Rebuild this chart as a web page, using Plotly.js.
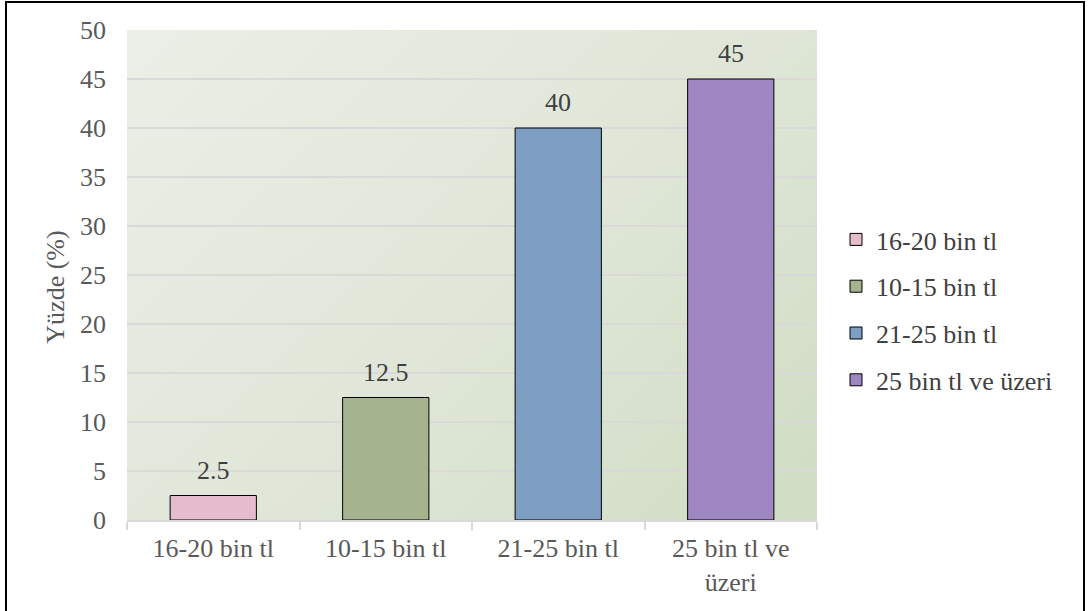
<!DOCTYPE html>
<html>
<head>
<meta charset="utf-8">
<script src="https://cdn.plot.ly/plotly-3.0.1.min.js"></script>
<style>
  html, body { margin: 0; padding: 0; background: #ffffff; overflow: hidden; }
  #stage { position: relative; width: 1088px; height: 611px; }
  #ytitle {
    position: absolute; left: 56px; top: 287px;
    transform: translate(-50%, -50%) rotate(-90deg);
    white-space: nowrap;
    font-family: 'Liberation Serif', serif; font-size: 26px; color: #595959;
    z-index: 3;
  }
  #plotbg {
    position: absolute; left: 127px; top: 30px; width: 690px; height: 490px;
    background: linear-gradient(135deg, #ebefe7 0%, #dfe6d7 55%, #d0dcc3 100%);
    z-index: 0;
  }
  #chart { position: absolute; left: 0; top: 0; width: 1088px; height: 611px; z-index: 1; }
  #frame {
    position: absolute; left: 5px; top: 1px; width: 1080px; height: 630px;
    box-sizing: border-box; border: 2.5px solid #000000; pointer-events: none; z-index: 4;
  }
</style>
</head>
<body>
<div id="stage">
  <div id="ytitle">Yüzde (%)</div>
  <div id="plotbg"></div>
  <div id="chart"></div>
  <div id="frame"></div>
</div>
<script>
// Income brackets and share of respondents (%)
const categories = ["16-20 bin tl", "10-15 bin tl", "21-25 bin tl", "25 bin tl ve üzeri"];
const tickLabels = ["16-20 bin tl", "10-15 bin tl", "21-25 bin tl", "25 bin tl ve<br>üzeri"];
const values = [2.5, 12.5, 40, 45];
const colors = ["#e4bccb", "#a5b48f", "#7f9ec3", "#9e86c2"];

const W = 1088, H = 611;
const M = { l: 127, r: 271, t: 30, b: 91 };
const plotW = W - M.l - M.r, plotH = H - M.t - M.b;
const px2x = p => (p - M.l) / plotW;
const py2y = p => (H - M.b - p) / plotH;

const serif = 'Liberation Serif';
const FS = 26;

// One trace per bracket so each gets its own legend entry
const traces = categories.map((c, i) => ({
  type: 'bar',
  name: c,
  x: [tickLabels[i]],
  y: [values[i]],
  width: 0.5,
  marker: { color: colors[i], line: { color: '#000000', width: 1 } },
  legendgroup: 'g' + i,
  hoverinfo: 'y+name'
}));

// Value labels above the bars
const annotations = values.map((v, i) => ({
  x: tickLabels[i], y: v, xref: 'x', yref: 'y',
  text: String(v), showarrow: false,
  yanchor: 'bottom', yshift: 9,
  font: { family: serif, size: FS, color: '#404040' }
}));

const layout = {
  width: W, height: H,
  margin: M,
  paper_bgcolor: 'rgba(0,0,0,0)',
  plot_bgcolor: 'rgba(0,0,0,0)',
  barmode: 'overlay',
  showlegend: true,
  legend: {
    x: px2x(836), xanchor: 'left',
    y: py2y(310), yanchor: 'middle',
    font: { family: serif, size: FS, color: '#404040' },
    tracegroupgap: 10,
    bgcolor: 'rgba(0,0,0,0)'
  },
  xaxis: {
    type: 'category',
    categoryorder: 'array',
    categoryarray: tickLabels,
    showline: true, linecolor: '#d9d9d9', linewidth: 2,
    ticks: 'outside', tickson: 'boundaries', ticklen: 8, tickcolor: '#d9d9d9', tickwidth: 2,
    showgrid: false,
    tickfont: { family: serif, size: FS, color: '#595959' },
    ticklabelstandoff: 4,
    fixedrange: true
  },
  yaxis: {
    range: [0, 50], dtick: 5,
    showgrid: true, gridcolor: '#d9d9d9', gridwidth: 1.5,
    zeroline: false, showline: false,
    ticks: '',
    tickfont: { family: serif, size: FS, color: '#595959' },
    ticklabelstandoff: 20,
    fixedrange: true
  },
  annotations: annotations
};

const config = { displayModeBar: false };
Plotly.newPlot('chart', traces, layout, config);

// Redraw once the serif face is ready so text is measured with it
if (document.fonts && document.fonts.load) {
  document.fonts.load(FS + 'px "' + serif + '"').then(() => {
    Plotly.newPlot('chart', traces, layout, config);
  });
}
</script>
</body>
</html>
